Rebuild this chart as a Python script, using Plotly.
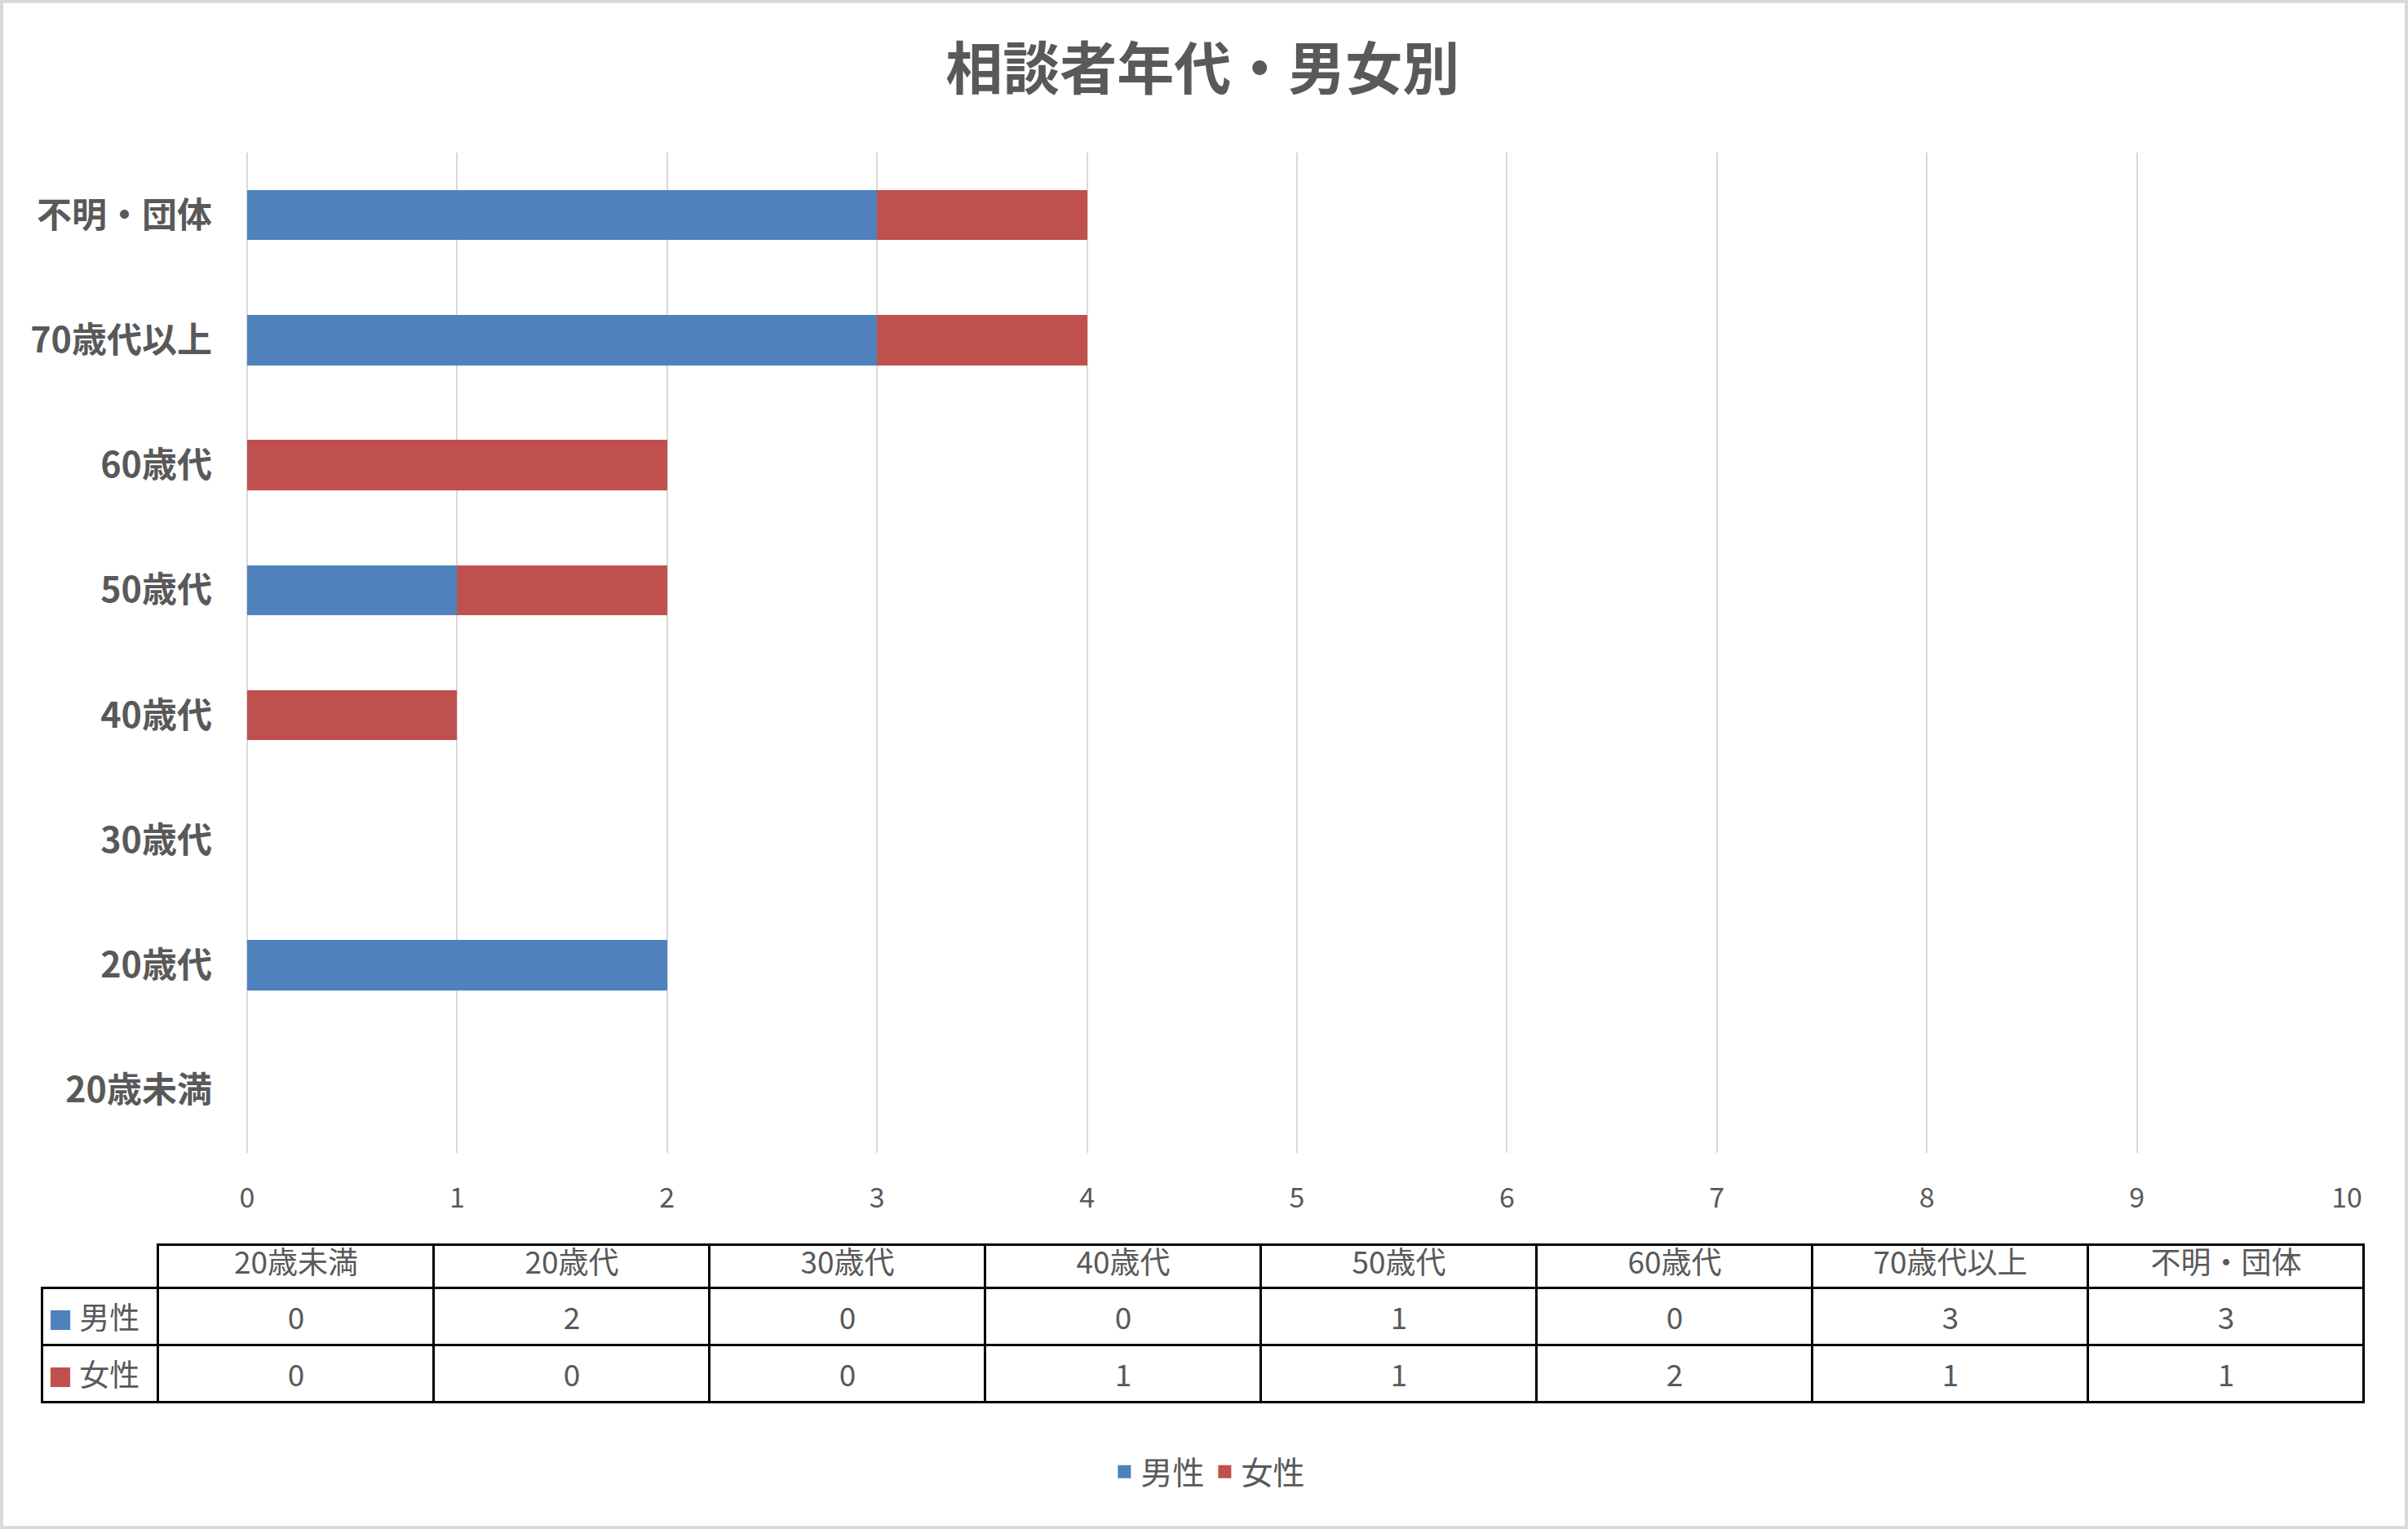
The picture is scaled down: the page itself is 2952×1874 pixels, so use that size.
import plotly.graph_objects as go

# データ
categories = ['20歳未満', '20歳代', '30歳代', '40歳代', '50歳代', '60歳代', '70歳代以上', '不明・団体']
male = [0, 2, 0, 0, 1, 0, 3, 3]
female = [0, 0, 0, 1, 1, 2, 1, 1]
series_names = ['男性', '女性']
x_ticks = list(range(0, 11))

W, H = 2952, 1874
BLUE = '#4F81BD'
RED = '#C0504D'
TEXT = '#595959'
GRID = '#D9D9D9'
FONT = 'Noto Sans CJK JP'
colors = [BLUE, RED]

# 配置（ピクセル）
plot_l, plot_r, plot_t, plot_b = 303, 2877, 187, 1413
tbl_l, tbl_r, tbl_t = 51, 2899, 1525
first_col_w = 143
col_w = (tbl_r - tbl_l - first_col_w) / len(categories)

fig = go.Figure()

for vals, name, color in zip([male, female], series_names, colors):
    fig.add_trace(go.Bar(
        y=categories, x=vals, name=name, orientation='h',
        marker=dict(color=color, line=dict(width=0)),
        showlegend=False,
    ))

# 凡例用（大きめの四角マーカー）
for name, color in zip(series_names, colors):
    fig.add_trace(go.Scatter(
        x=[None], y=[None], mode='markers', name=name,
        marker=dict(symbol='square', size=16, color=color),
    ))

# データテーブル（末尾の<br>で自動折り返しを止め、縦位置も揃える）
row_labels = [
    f'<span style="color:{c};font-size:30px">■</span> {n}<br>'
    for n, c in zip(series_names, colors)
]
fig.add_trace(go.Table(
    domain=dict(x=[tbl_l / W, tbl_r / W], y=[0, 1 - tbl_t / H]),
    columnwidth=[first_col_w] + [col_w] * len(categories),
    header=dict(
        values=[''] + categories,
        height=53,
        align='center',
        font=dict(family=FONT, size=37, color=TEXT),
        fill=dict(color=['rgba(0,0,0,0)'] + ['white'] * len(categories)),
        line=dict(color='black', width=[0] + [3] * len(categories)),
    ),
    cells=dict(
        values=[row_labels] + [[f'{m}<br>', f'{f}<br>'] for m, f in zip(male, female)],
        height=70,
        align=['left'] + ['center'] * len(categories),
        font=dict(family=FONT, size=37, color=TEXT),
        fill=dict(color='white'),
        line=dict(color='black', width=3),
    ),
))

fig.update_layout(
    width=W, height=H,
    margin=dict(l=0, r=0, t=0, b=0),
    paper_bgcolor='white', plot_bgcolor='white',
    barmode='stack', bargap=0.6,
    font=dict(family=FONT, color=TEXT),
    title=dict(
        text='相談者年代・男女別', x=0.4994, xanchor='center',
        y=1 - 85 / H, yanchor='middle', yref='paper',
        font=dict(family=FONT, size=70, color=TEXT, weight='bold'),
    ),
    xaxis=dict(
        domain=[plot_l / W, plot_r / W], range=[0, 10],
        tickvals=x_ticks, showgrid=True, gridcolor=GRID, gridwidth=2,
        zeroline=True, zerolinecolor=GRID, zerolinewidth=2,
        showline=False, ticks='', ticklabelstandoff=32,
        tickfont=dict(family=FONT, size=34, color=TEXT),
        automargin=False, fixedrange=True,
    ),
    yaxis=dict(
        domain=[1 - plot_b / H, 1 - plot_t / H],
        categoryorder='array', categoryarray=categories,
        showgrid=False, showline=False, ticks='', ticklabelstandoff=42,
        tickfont=dict(family=FONT, size=43, color=TEXT, weight='bold'),
        automargin=False, fixedrange=True,
    ),
    legend=dict(
        orientation='h', x=0.502, xanchor='center', y=1 - 1804 / H, yanchor='middle',
        font=dict(family=FONT, size=39, color=TEXT), traceorder='normal',
        itemsizing='trace', itemwidth=30,
    ),
    shapes=[dict(
        type='rect', xref='paper', yref='paper', x0=0.0007, x1=0.9993, y0=0.001, y1=0.999,
        line=dict(color=GRID, width=4), fillcolor='rgba(0,0,0,0)', layer='below',
    )],
    showlegend=True,
)

fig.write_html(
    'out.html',
    config={'displayModeBar': False},
    post_script="document.body.style.margin='0';",
)
